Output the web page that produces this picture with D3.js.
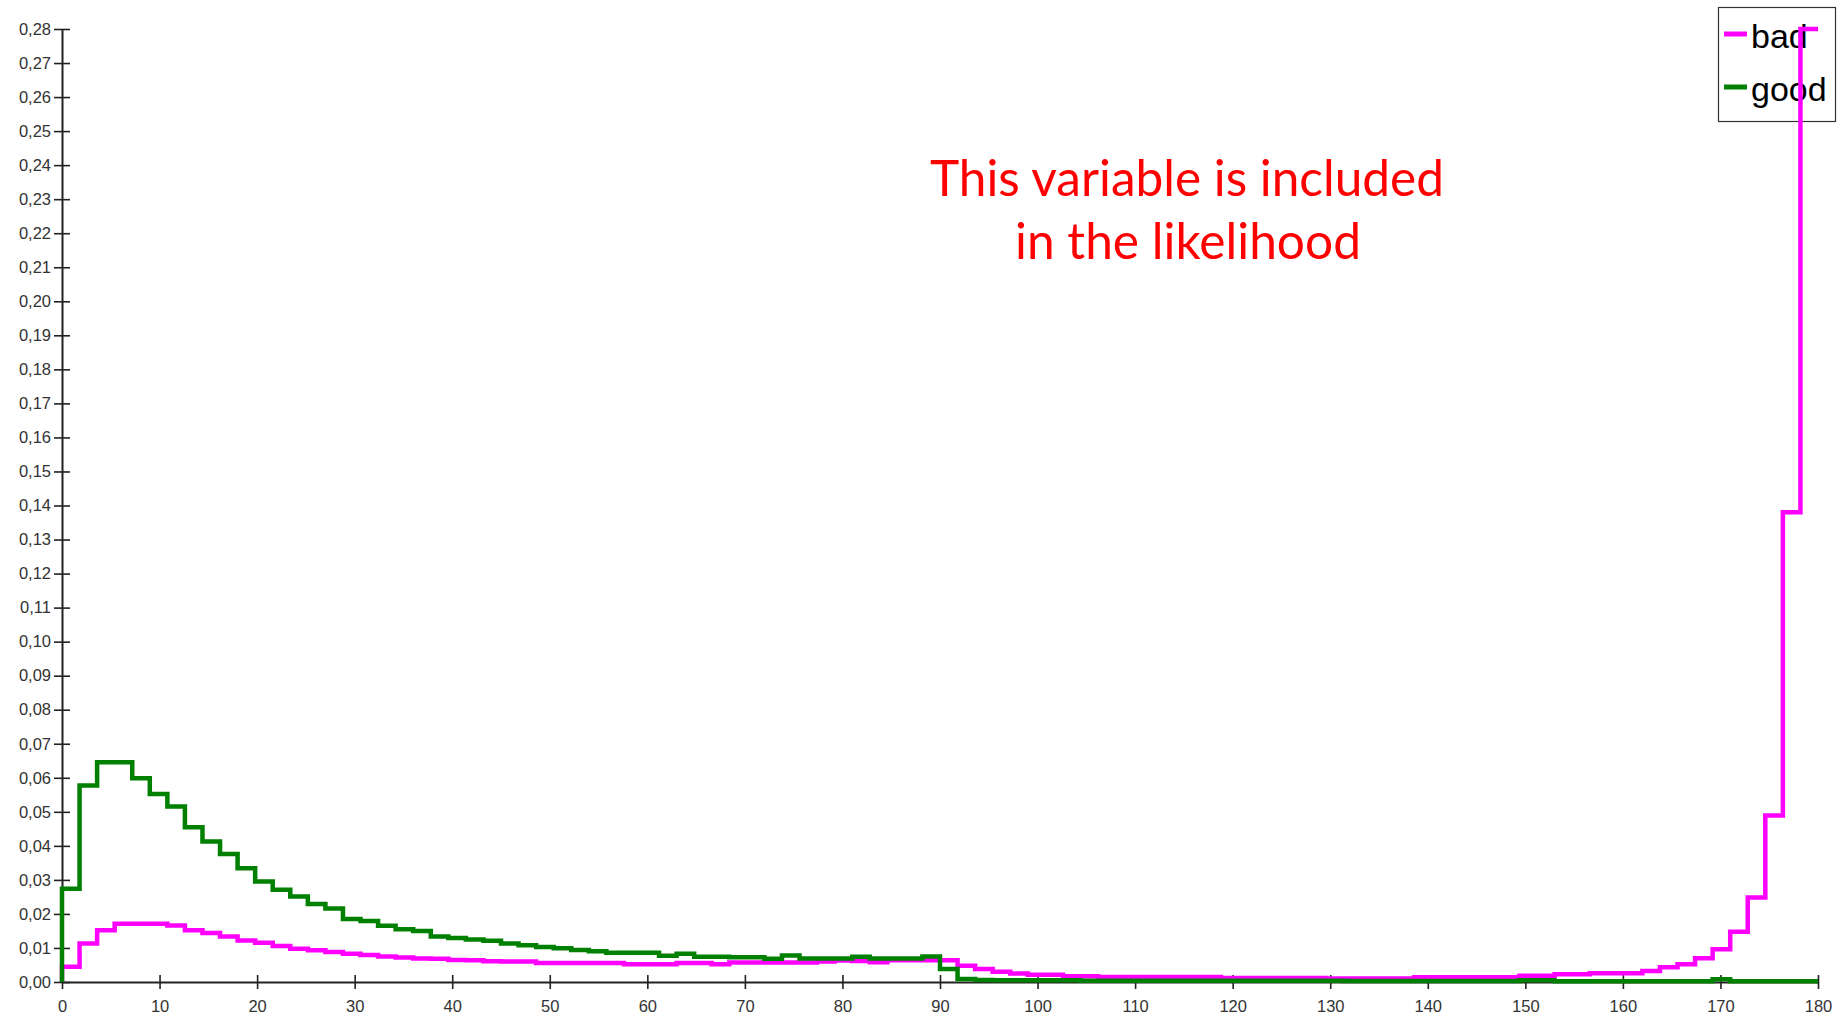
<!DOCTYPE html>
<html><head><meta charset="utf-8">
<script src="https://cdn.jsdelivr.net/npm/d3@7"></script>
<style>
html,body{margin:0;padding:0;background:#fff;}
svg{display:block;}
</style>
</head><body>
<svg id="chart" width="1847" height="1017"></svg>
<script>
// ---- data ----
const seriesNames = ["bad", "good"];
const seriesColors = ["#ff00ff", "#008000"];
const xTickValues = [0,10,20,30,40,50,60,70,80,90,100,110,120,130,140,150,160,170,180];
const yTickValues = [0,0.01,0.02,0.03,0.04,0.05,0.06,0.07,0.08,0.09,0.10,0.11,0.12,0.13,0.14,0.15,0.16,0.17,0.18,0.19,0.20,0.21,0.22,0.23,0.24,0.25,0.26,0.27,0.28];
const binWidth = 1.8;
const annotationLines = ["This variable is included", "in the likelihood"];

const badValues = [0.0045,0.0113,0.0152,0.0171,0.0171,0.0171,0.0166,0.0152,0.0144,0.0134,
0.0122,0.0115,0.0106,0.0098,0.0093,0.0088,0.0083,0.0079,0.0075,0.0072,
0.0069,0.0068,0.0065,0.0064,0.0061,0.0060,0.0060,0.0056,0.0056,0.0056,
0.0056,0.0056,0.0052,0.0052,0.0052,0.0056,0.0056,0.0052,0.0057,0.0057,
0.0057,0.0057,0.0057,0.0060,0.0063,0.0062,0.0058,0.0064,0.0064,0.0064,
0.0064,0.0048,0.0038,0.0030,0.0025,0.0021,0.0021,0.0017,0.0017,0.0015,
0.0015,0.0015,0.0015,0.0015,0.0015,0.0015,0.0012,0.0012,0.0012,0.0012,
0.0012,0.0012,0.0010,0.0010,0.0010,0.0010,0.0010,0.0014,0.0014,0.0014,
0.0014,0.0014,0.0014,0.0018,0.0018,0.0023,0.0023,0.0026,0.0026,0.0026,
0.0032,0.0043,0.0052,0.0070,0.0096,0.0148,0.0248,0.0489,0.138,0.28];

const goodValues = [0.0274,0.0577,0.0646,0.0646,0.0599,0.0552,0.0516,0.0455,0.0413,0.0376,
0.0334,0.0295,0.0271,0.0251,0.0229,0.0216,0.0185,0.0179,0.0165,0.0155,
0.0150,0.0134,0.0129,0.0125,0.0121,0.0113,0.0108,0.0103,0.0099,0.0094,
0.0090,0.0086,0.0086,0.0086,0.0077,0.0083,0.0074,0.0074,0.0073,0.0073,
0.0068,0.0078,0.0069,0.0069,0.0069,0.0074,0.0069,0.0069,0.0069,0.0075,
0.0038,0.0009,0.0006,0.0005,0.0005,0.0005,0.0005,0.0005,0.0004,0.0004,
0.0004,0.0004,0.0004,0.0004,0.0004,0.0004,0.0004,0.0004,0.0004,0.0004,
0.0004,0.0004,0.0004,0.0003,0.0003,0.0003,0.0003,0.0003,0.0003,0.0003,
0.0003,0.0003,0.0003,0.0005,0.0005,0.0002,0.0002,0.0002,0.0002,0.0002,
0.0002,0.0002,0.0002,0.0002,0.0008,0.0002,0.0002,0.0002,0.0002,0.0002];

// ---- drawing ----
const svg = d3.select("#chart");
const x = d3.scaleLinear().domain([0, 180]).range([62, 1818]);
const y = d3.scaleLinear().domain([0, 0.28]).range([982, 29]);
const fmt = v => d3.format(".2f")(v).replace(".", ",");

// legend (under the lines)
const lg = svg.append("g");
lg.append("rect").attr("x", 1718.5).attr("y", 7.5).attr("width", 117).attr("height", 114)
  .attr("fill", "#fff").attr("stroke", "#333").attr("stroke-width", 1.2);
seriesNames.forEach((n, i) => {
  const cy = 34 + i * 53;
  lg.append("line").attr("x1", 1724).attr("x2", 1747).attr("y1", cy).attr("y2", cy)
    .attr("stroke", seriesColors[i]).attr("stroke-width", 5);
  lg.append("text").attr("x", 1751).attr("y", cy + 14).text(n)
    .attr("font-family", "Liberation Sans, Arial, sans-serif").attr("font-size", 34).attr("fill", "#000");
});

// annotation
const ann = svg.append("g").attr("fill", "#ff0000")
  .attr("font-family", "Lato, 'Open Sans', sans-serif").attr("font-size", 50);
ann.append("text").attr("x", 930).attr("y", 196).attr("textLength", 514)
  .attr("lengthAdjust", "spacingAndGlyphs").text(annotationLines[0]);
ann.append("text").attr("x", 1015).attr("y", 259).attr("textLength", 346)
  .attr("lengthAdjust", "spacingAndGlyphs").text(annotationLines[1]);

// axes
const yAxis = d3.axisLeft(y).tickValues(yTickValues).tickFormat(fmt).tickSizeInner(8).tickSizeOuter(0).tickPadding(3);
const gy = svg.append("g").attr("transform", `translate(${x(0)},0)`).call(yAxis);
gy.selectAll(".tick line").attr("x1", 8);
const xAxis = d3.axisBottom(x).tickValues(xTickValues).tickFormat(d3.format("d")).tickSizeInner(7).tickSizeOuter(0).tickPadding(11);
const gx = svg.append("g").attr("transform", `translate(0,${y(0)})`).call(xAxis);
gx.selectAll(".tick line").attr("y1", -7);
[gx, gy].forEach(g => {
  g.selectAll("path.domain").attr("stroke", "#222").attr("stroke-width", 2);
  g.selectAll(".tick line").attr("stroke", "#222").attr("stroke-width", 1.6);
  g.selectAll("text").attr("font-family", "Liberation Sans, Arial, sans-serif").attr("font-size", 16.5).attr("fill", "#333");
});

// step histograms
const stepLine = d3.line().x(d => x(d[0])).y(d => y(d[1])).curve(d3.curveStepAfter);
function pts(vals) {
  const p = [[0, 0]];
  vals.forEach((v, i) => p.push([i * binWidth, v]));
  p.push([vals.length * binWidth, vals[vals.length - 1]]);
  return p;
}
[badValues, goodValues].forEach((vals, i) => {
  svg.append("path").attr("d", stepLine(pts(vals))).attr("fill", "none")
    .attr("stroke", seriesColors[i]).attr("stroke-width", 4.5).attr("stroke-linejoin", "miter");
});
</script>
</body></html>
